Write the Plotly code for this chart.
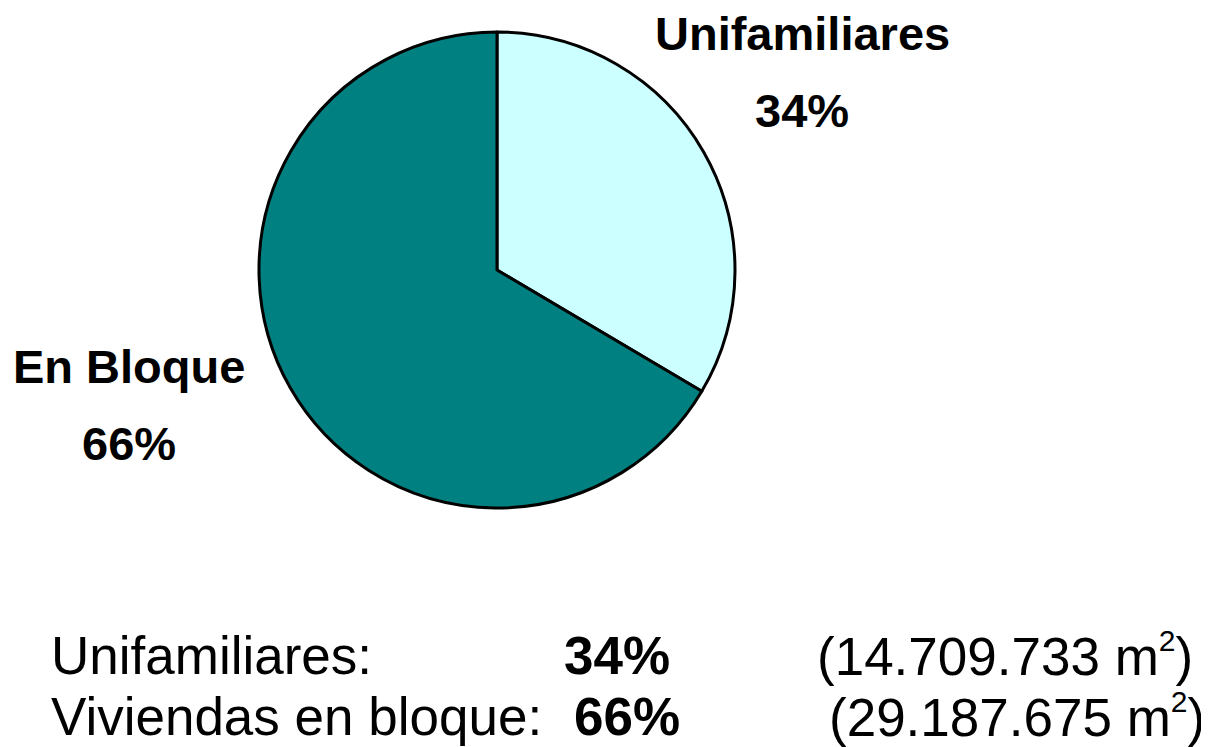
import plotly.graph_objects as go

W, H = 1209, 747
OFF = 8  # page body margin in the browser

labels = ["Unifamiliares", "En Bloque"]
values = [14709733, 29187675]
percents = ["34%", "66%"]
colors = ["#CCFFFF", "#008080"]
summary_names = ["Unifamiliares:", "Viviendas en bloque:"]
summary_areas = ["14.709.733", "29.187.675"]

cx, cy, r = 497 - OFF, 270 - OFF, 238

fig = go.Figure(go.Pie(
    labels=labels, values=values, sort=False, direction="clockwise", rotation=0,
    marker=dict(colors=colors, line=dict(color="black", width=3)),
    textinfo="none", hoverinfo="label+percent", showlegend=False,
    domain=dict(x=[(cx - r) / W, (cx + r) / W], y=[1 - (cy + r) / H, 1 - (cy - r) / H]),
))

font_b = dict(family="Liberation Sans, Arial", size=47, color="black")
font_s = dict(family="Liberation Sans, Arial", size=53, color="black")
font_sup_base = dict(family="Liberation Sans, Arial", size=57, color="black")


def area_text(a):
    big = "<span style='font-size:53px'>"
    return f"{big}({a} m</span><sup><span style='font-size:30px'>2</span></sup>{big})</span>"


ann = []
# slice labels
label_pos = [(794, 26, 103), (121, 358, 435)]
for (x, y1, y2), lab, pct in zip(label_pos, labels, percents):
    ann.append(dict(x=x / W, y=1 - y1 / H, text=f"<b>{lab}</b>", showarrow=False,
                    xref="paper", yref="paper", xanchor="center", yanchor="middle", font=font_b))
    ann.append(dict(x=x / W, y=1 - y2 / H, text=f"<b>{pct}</b>", showarrow=False,
                    xref="paper", yref="paper", xanchor="center", yanchor="middle", font=font_b))

# bottom summary
rows = [(647, 41, 554, 807), (708, 41, 564, 819)]
for (y, xn, xp, xa), name, pct, area in zip(rows, summary_names, percents, summary_areas):
    ann.append(dict(x=xn / W, y=1 - y / H, text=name, showarrow=False, xref="paper", yref="paper",
                    xanchor="left", yanchor="middle", font=font_s))
    ann.append(dict(x=xp / W, y=1 - y / H, text=f"<b>{pct}</b>", showarrow=False, xref="paper", yref="paper",
                    xanchor="left", yanchor="middle", font=font_s))
    ann.append(dict(x=xa / W, y=1 - y / H, text=area_text(area), showarrow=False, xref="paper", yref="paper",
                    xanchor="left", yanchor="middle", font=font_sup_base))

fig.update_layout(
    width=W, height=H, margin=dict(l=0, r=0, t=0, b=0),
    paper_bgcolor="white", plot_bgcolor="white", annotations=ann,
)
fig.write_html("out.html")
